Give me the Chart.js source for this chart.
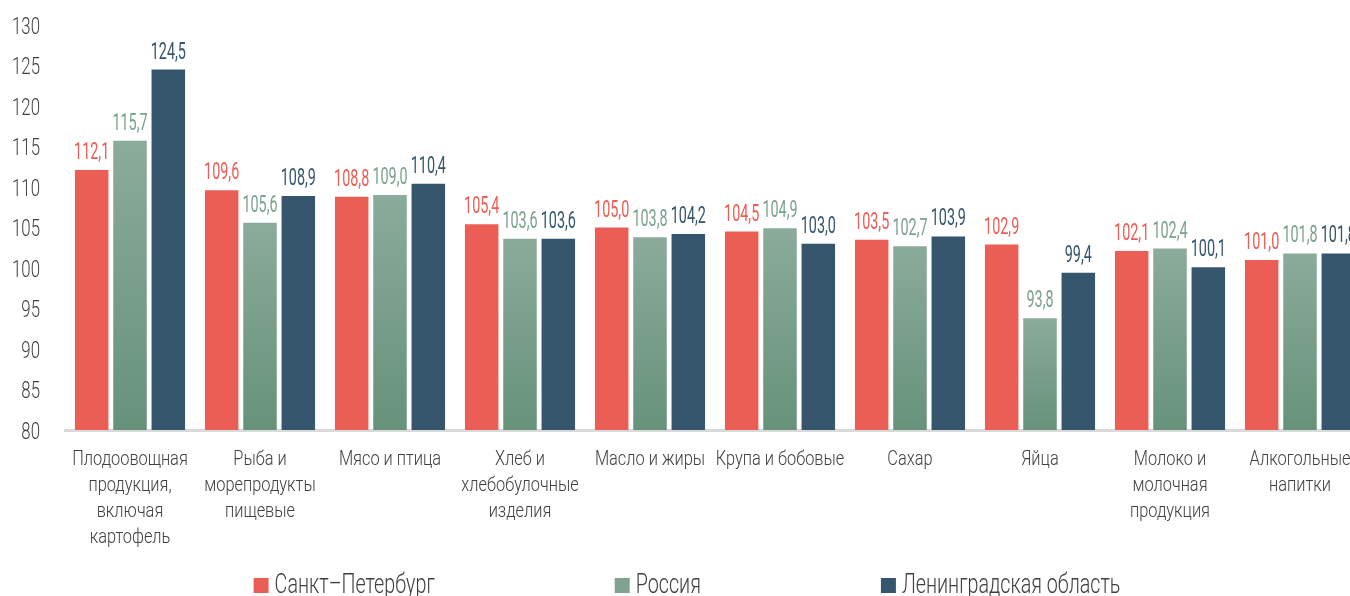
<!DOCTYPE html>
<html lang="ru">
<head>
<meta charset="utf-8">
<title>Индексы цен на продукты</title>
<script src="https://cdn.jsdelivr.net/npm/chart.js@4.4.1/dist/chart.umd.min.js"></script>
<style>
  html, body { margin: 0; padding: 0; background: #fff; overflow: hidden; }
  body { width: 1350px; height: 596px; position: relative; }
  #wrap { position: absolute; left: 0; top: 0; width: 1380px; height: 596px; }
</style>
</head>
<body>
<div id="wrap"><canvas id="chart" width="1380" height="596"></canvas></div>
<script>
// Categories (multi-line labels as in the picture)
const categories = [
  ["Плодоовощная", "продукция,", "включая", "картофель"],
  ["Рыба и", "морепродукты", "пищевые"],
  ["Мясо и птица"],
  ["Хлеб и", "хлебобулочные", "изделия"],
  ["Масло и жиры"],
  ["Крупа и бобовые"],
  ["Сахар"],
  ["Яйца"],
  ["Молоко и", "молочная", "продукция"],
  ["Алкогольные", "напитки"]
];

// Series values
const spbValues = [112.1, 109.6, 108.8, 105.4, 105.0, 104.5, 103.5, 102.9, 102.1, 101.0];
const russiaValues = [115.7, 105.6, 109.0, 103.6, 103.8, 104.9, 102.7, 93.8, 102.4, 101.8];
const lenoblValues = [124.5, 108.9, 110.4, 103.6, 104.2, 103.0, 103.9, 99.4, 100.1, 101.8];

// Axis ticks
const yTicks = [80, 85, 90, 95, 100, 105, 110, 115, 120, 125, 130];

const seriesNames = ["Санкт–Петербург", "Россия", "Ленинградская область"];
const barColors = ["#EB5E55", "#7FA38F", "#35566D"];
const labelColors = ["#EB5E55", "#7BA28D", "#36566D"];
const textColor = "#404040";
const fontFamily = 'Roboto, "DejaVu Sans", sans-serif';

// Green bars fade from light at the top to darker at the base
function greenFill(context) {
  const chart = context.chart;
  if (!chart.chartArea || context.raw === undefined) return barColors[1];
  const y = chart.scales.y;
  const top = y.getPixelForValue(context.raw);
  const bottom = y.getPixelForValue(yTicks[0]);
  const g = chart.ctx.createLinearGradient(0, top, 0, bottom);
  g.addColorStop(0, "#8BAB9B");
  g.addColorStop(1, "#66927B");
  return g;
}

// Draw text squeezed horizontally, the picture uses a condensed face
function narrowText(ctx, text, x, y, size, color, squeeze, align, weight) {
  ctx.save();
  ctx.translate(x, y);
  ctx.scale(squeeze, 1);
  ctx.font = (weight || 300) + " " + size + "px " + fontFamily;
  ctx.fillStyle = color;
  ctx.textAlign = align;
  ctx.textBaseline = "alphabetic";
  ctx.fillText(text, 0, 0);
  ctx.restore();
}

// Value labels above the bars
const valueLabels = {
  id: "valueLabels",
  afterDatasetsDraw(chart) {
    const ctx = chart.ctx;
    chart.data.datasets.forEach((ds, i) => {
      const meta = chart.getDatasetMeta(i);
      meta.data.forEach((bar, j) => {
        const text = ds.data[j].toFixed(1).replace(".", ",");
        narrowText(ctx, text, bar.x, bar.y - 11, 24, labelColors[i], 0.6, "center", 400);
      });
    });
  }
};

// Axis labels and legend
const axisText = {
  id: "axisText",
  afterDraw(chart) {
    const ctx = chart.ctx;
    const x = chart.scales.x;
    const y = chart.scales.y;
    yTicks.forEach(v => {
      narrowText(ctx, String(v), 40, y.getPixelForValue(v) + 8.5, 24, textColor, 0.7, "right");
    });
    categories.forEach((lines, i) => {
      const cx = x.getPixelForValue(i);
      lines.forEach((line, k) => {
        narrowText(ctx, line, cx, 465 + k * 26, 21, textColor, 0.78, "center");
      });
    });

    // legend row
    const size = 27;
    const squeeze = 0.73;
    const gap = 180;
    ctx.save();
    ctx.font = "300 " + size + "px " + fontFamily;
    const widths = seriesNames.map(n => 21 + ctx.measureText(n).width * squeeze);
    ctx.restore();
    const total = widths.reduce((a, b) => a + b, 0) + gap * (seriesNames.length - 1);
    let lx = 687 - total / 2;
    seriesNames.forEach((name, i) => {
      ctx.fillStyle = barColors[i];
      ctx.fillRect(lx, 578, 15, 15);
      narrowText(ctx, name, lx + 21, 593, size, textColor, squeeze, "left");
      lx += widths[i] + gap;
    });
  }
};

const ctx = document.getElementById("chart").getContext("2d");
const myChart = new Chart(ctx, {
  type: "bar",
  data: {
    labels: categories,
    datasets: [
      { label: seriesNames[0], data: spbValues, backgroundColor: barColors[0] },
      { label: seriesNames[1], data: russiaValues, backgroundColor: greenFill },
      { label: seriesNames[2], data: lenoblValues, backgroundColor: barColors[2] }
    ]
  },
  options: {
    responsive: false,
    devicePixelRatio: 1,
    animation: false,
    layout: { padding: { top: 25, right: 15, left: 0, bottom: 0 } },
    datasets: {
      bar: { categoryPercentage: 0.884, barPercentage: 0.875, base: yTicks[0] }
    },
    scales: {
      x: {
        grid: { display: false, drawTicks: false },
        border: { display: true, color: "#D9D9D9", width: 3 },
        ticks: { display: false },
        afterFit(scale) { scale.height = 166; }
      },
      y: {
        min: yTicks[0],
        max: yTicks[yTicks.length - 1],
        grid: { display: false, drawTicks: false },
        border: { display: false },
        ticks: { display: false, stepSize: 5 },
        afterFit(scale) { scale.width = 65; }
      }
    },
    plugins: {
      legend: { display: false },
      title: { display: false },
      tooltip: { enabled: false }
    }
  },
  plugins: [valueLabels, axisText]
});
</script>
</body>
</html>
